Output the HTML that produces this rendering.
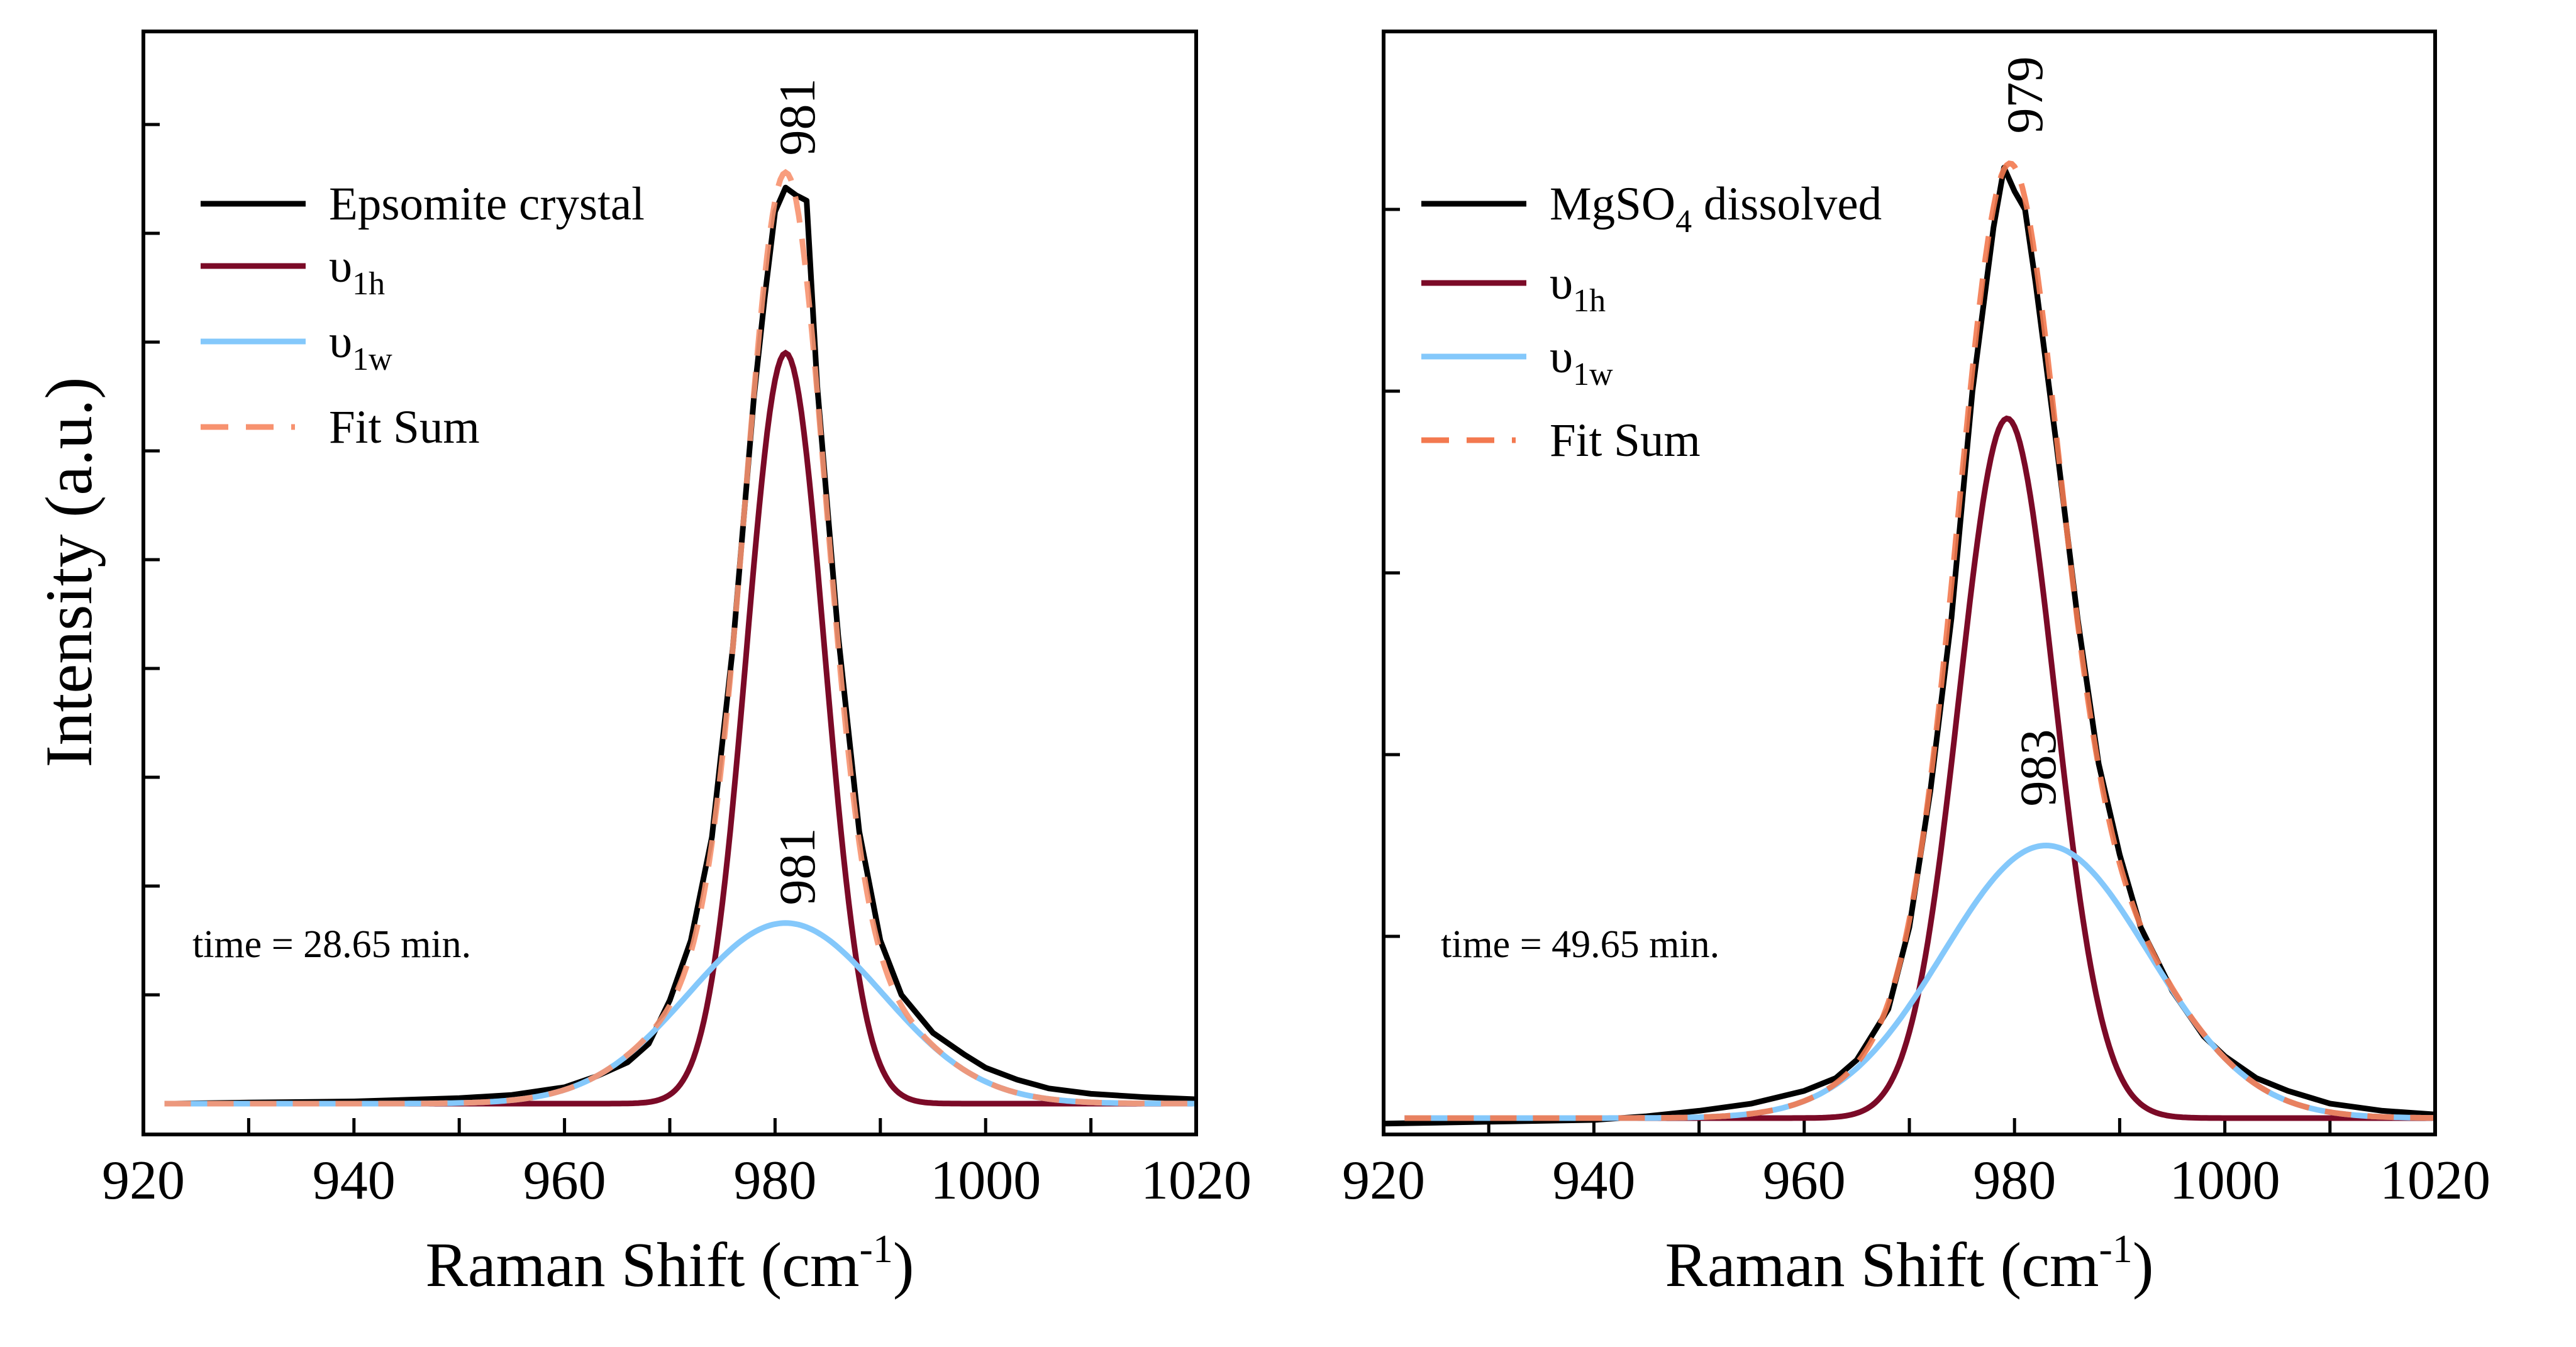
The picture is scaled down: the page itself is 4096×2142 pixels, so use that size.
<!DOCTYPE html>
<html><head><meta charset="utf-8">
<style>
html,body{margin:0;padding:0;background:#fff;}
svg{display:block;font-family:"Liberation Serif",serif;}
</style></head>
<body>
<svg id="chart" width="4096" height="2142" viewBox="0 0 4096 2142" xmlns="http://www.w3.org/2000/svg"></svg>
<script>
// ---- data ----
const xTicks = [920, 940, 960, 980, 1000, 1020];
// left panel (Epsomite crystal)
const leftObsX = [923,930,940,950,955,960,963,966,968,970,972,974,976,978,979,980,981,982,983,984,986,988,990,992,995,998,1000,1003,1006,1010,1015,1020];
const leftObsY = [0,0.01,0.02,0.05,0.08,0.15,0.25,0.38,0.55,0.95,1.5,2.45,4.2,6.5,7.4,8.2,8.42,8.35,8.3,6.6,4.3,2.5,1.5,1.0,0.65,0.45,0.33,0.22,0.14,0.09,0.06,0.04];
const leftPeakCenters = [981, 981];
const leftPeakAmps = [6.9, 1.66];
const leftPeakFwhm = [8.7, 21.8];
// right panel (MgSO4 dissolved)
const rightObsX = [920,930,940,945,950,955,960,963,965,968,970,972,974,976,978,979,980,981,982,984,986,988,990,992,995,998,1000,1003,1006,1010,1015,1020];
const rightObsY = [-0.03,-0.02,-0.01,0.01,0.04,0.08,0.15,0.22,0.32,0.6,1.05,1.8,2.75,4.0,4.9,5.23,5.1,5.0,4.6,3.7,2.75,1.95,1.45,1.05,0.7,0.45,0.34,0.22,0.15,0.08,0.04,0.02];
const rightPeakCenters = [979.3, 983];
const rightPeakAmps = [3.85, 1.5];
const rightPeakFwhm = [10.7, 23];

const NS = "http://www.w3.org/2000/svg";
const svg = document.getElementById('chart');
function mk(tag, attrs, parent) {
  const e = document.createElementNS(NS, tag);
  for (const k in attrs) e.setAttribute(k, attrs[k]);
  (parent || svg).appendChild(e);
  return e;
}
function gauss(x, c, a, w) { return a * Math.exp(-4 * Math.LN2 * Math.pow((x - c) / w, 2)); }

function panel(cfg) {
  const g = mk('g', {});
  
  
  const L = cfg.left, R = cfg.right, T = 50, B = 1804;
  const sx = v => L + (v - 920) / 100 * (R - L);
  const sy = v => cfg.base - v * cfg.unit;
  for (let i = 1; i <= cfg.nY; i++) {
    const t = mk('line', {x1: L, x2: L + 26, y1: sy(i), y2: sy(i), stroke: '#000', 'stroke-width': 5}, g);
    
    
  }
  for (let v = 930; v < 1020; v += 10) {
    const t = mk('line', {x1: sx(v), x2: sx(v), y1: B, y2: B - 26, stroke: '#000', 'stroke-width': 5}, g);
    
    
  }
  xTicks.forEach(v => {
    const t = mk('text', {x: sx(v), y: 1906, 'font-size': 88, 'text-anchor': 'middle'}, g);
    t.textContent = v;
    
    
  });
  const xs = [];
  for (let v = 922; v <= 1020; v += 0.25) xs.push(v);
  const comp = (i) => xs.map(v => [sx(v), sy(gauss(v, cfg.c[i], cfg.a[i], cfg.w[i]))]);
  const sum = xs.map(v => [sx(v), sy(cfg.c.reduce((s, c, i) => s + gauss(v, c, cfg.a[i], cfg.w[i]), 0))]);
  const obs = cfg.ox.map((v, i) => [sx(v), sy(cfg.oy[i])]);
  const pth = pts => 'M' + pts.map(p => p[0].toFixed(1) + ',' + p[1].toFixed(1)).join('L');
  const s1 = mk('path', {d: pth(obs), fill: 'none', stroke: '#000', 'stroke-width': 9, 'stroke-linejoin': 'round'}, g);
  
  
  const s2 = mk('path', {d: pth(comp(0)), fill: 'none', stroke: '#7b0a27', 'stroke-width': 9}, g);
  
  
  const s3 = mk('path', {d: pth(comp(1)), fill: 'none', stroke: '#84c8fb', 'stroke-width': 9}, g);
  
  
  const s4 = mk('path', {d: pth(sum), fill: 'none', stroke: cfg.fitColor, 'stroke-width': 9, 'stroke-dasharray': '42 26', opacity: 0.9}, g);
  
  
  const f = mk('rect', {x: L, y: T, width: R - L, height: B - T, fill: 'none', stroke: '#000', 'stroke-width': 6}, g);
  
  
  const cols = ['#000', '#7b0a27', '#84c8fb', cfg.fitColor];
  cfg.legY.forEach((y, i) => {
    const ln = mk('line', {x1: cfg.legX, x2: cfg.legX + 167, y1: y, y2: y, stroke: cols[i], 'stroke-width': 9}, g);
    if (i === 3) { ln.setAttribute('stroke-dasharray', '44 28'); ln.setAttribute('x2', cfg.legX + 150); }
    
    
    const tx = mk('text', {x: cfg.textX, y: y + 25, 'font-size': 75}, g);
    tx.innerHTML = cfg.legText[i];
    
    
  });
  cfg.ann.forEach(a => {
    const t = mk('text', {x: 0, y: 0, 'font-size': 82, 'text-anchor': 'middle', transform: `translate(${a[0]},${a[1]}) rotate(-90)`}, g);
    t.textContent = a[2];
    
    
  });
  const tt = mk('text', {x: cfg.timeX, y: 1522, 'font-size': 62}, g);
  tt.textContent = cfg.time;
  
  
  const xt = mk('text', {x: (L + R) / 2, y: 2045, 'font-size': 101, 'text-anchor': 'middle'}, g);
  xt.innerHTML = 'Raman Shift (cm<tspan dy="-38" font-size="64">-1</tspan><tspan dy="38">)</tspan>';
  
  
}

panel({name: 'left-panel', left: 228, right: 1902, base: 1755, unit: 173, nY: 9,
  c: leftPeakCenters, a: leftPeakAmps, w: leftPeakFwhm, ox: leftObsX, oy: leftObsY, fitColor: '#f7926f',
  legX: 319, textX: 523, legY: [324, 423, 543, 679],
  legText: ['Epsomite crystal', 'υ<tspan dy="20" font-size="52">1h</tspan>', 'υ<tspan dy="20" font-size="52">1w</tspan>', 'Fit Sum'],
  ann: [[1295, 186, '981'], [1295, 1378, '981']], timeX: 306, time: 'time = 28.65 min.'});
panel({name: 'right-panel', left: 2200, right: 3872, base: 1778, unit: 289, nY: 5,
  c: rightPeakCenters, a: rightPeakAmps, w: rightPeakFwhm, ox: rightObsX, oy: rightObsY, fitColor: '#f3794f',
  legX: 2260, textX: 2464, legY: [324, 450, 567, 700],
  legText: ['MgSO<tspan dy="20" font-size="52">4</tspan><tspan dy="-20"> dissolved</tspan>', 'υ<tspan dy="20" font-size="52">1h</tspan>', 'υ<tspan dy="20" font-size="52">1w</tspan>', 'Fit Sum'],
  ann: [[3247, 151, '979'], [3268, 1221, '983']], timeX: 2291, time: 'time = 49.65 min.'});

const yt = mk('text', {x: 0, y: 0, 'font-size': 106, 'text-anchor': 'middle', transform: 'translate(145,910) rotate(-90)'});
yt.textContent = 'Intensity (a.u.)';


</script>
</body></html>
